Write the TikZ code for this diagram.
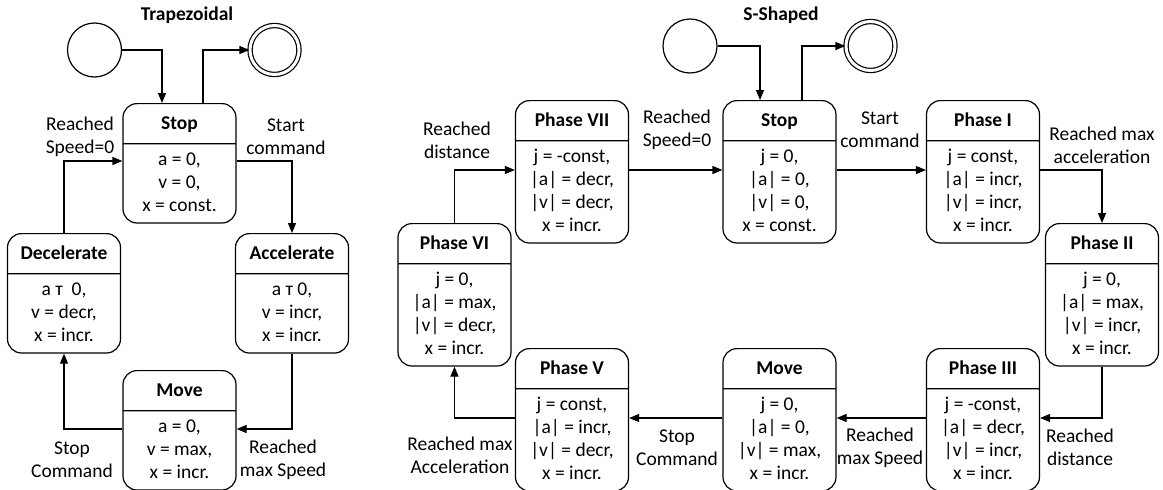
\documentclass[tikz,border=0pt]{standalone}
\usepackage{fontspec}
\setmainfont{Carlito}
\usepackage{tikz}
\usetikzlibrary{shapes,arrows.meta,calc}

\begin{document}
\begin{tikzpicture}[
				x=1pt, y=-1pt,
				font=\fontsize{19.5}{23}\selectfont,
				statebox/.style={draw, line width=1.2pt, rounded corners=14pt,
					rectangle split, rectangle split parts=2, minimum width=113pt,
					inner xsep=2pt, inner ysep=4.5pt, anchor=north},
				ring/.style={draw, line width=1.2pt, circle, minimum size=54pt, inner sep=0pt},
				arr/.style={line width=1.2pt, -{Triangle[length=10pt,width=8pt]}},
				lbl/.style={align=center, inner sep=0pt},
			]
			\newcommand{\hd}[1]{\textbf{#1}\rule[-9pt]{0pt}{30pt}}
			\newcommand{\bd}[1]{\begin{tabular}{@{}c@{}}#1\end{tabular}}

			\useasboundingbox (0,0) rectangle (1163,490);

			% Trapezoidal
			\node[font=\fontsize{19.5}{23}\bfseries] (ttitle) at (187,15) {Trapezoidal};
			\node[ring] (tinit) at (94.5,50) {};
			\node[ring, double, double distance=3pt, minimum size=49pt] (tfin) at (274.5,50) {};

			\node[statebox] (tstop) at (179.5,103) {\hd{Stop}\nodepart{second}\bd{a = 0,\\ v = 0,\\ x = const.}};
			\node[statebox] (tacc) at (292,233) {\hd{Accelerate}\nodepart{second}\bd{a т 0,\\ v = incr,\\ x = incr.}};
			\node[statebox] (tdec) at (64,233) {\hd{Decelerate}\nodepart{second}\bd{a т~ 0,\\ v = decr,\\ x = incr.}};
			\node[statebox] (tmove) at (179.5,370) {\hd{Move}\nodepart{second}\bd{a = 0,\\ v = max,\\ x = incr.}};

			\draw[arr] (tinit.east) -| ([xshift=-17.5]tstop.north);
			\draw[arr] ([xshift=23.5]tstop.north) |- (tfin.west);
			\draw[arr] ([yshift=-58]tstop.north east) -| (tacc.north);
			\draw[arr] (tacc.south) |- ([yshift=-59]tmove.north east);
			\draw[arr] ([yshift=-59]tmove.north west) -| (tdec.south);
			\draw[arr] (tdec.north) |- ([yshift=-58]tstop.north west);

			\node[lbl] (tl1) at (80,137) {Reached\\Speed=0};
			\node[lbl] (tl2) at (286,137) {Start\\command};
			\node[lbl] (tl3) at (283,460) {Reached\\max Speed};
			\node[lbl] (tl4) at (72,460) {Stop\\Command};

			% S-Shaped
			\node[font=\fontsize{19.5}{23}\bfseries] (stitle) at (781,15) {S-Shaped};
			\node[ring] (sinit) at (690,46) {};
			\node[ring, double, double distance=3pt, minimum size=49pt] (sfin) at (870.5,46) {};

			\node[statebox] (sstop) at (779.5,100) {\hd{Stop}\nodepart{second}\bd{j = 0,\\ |a| = 0,\\ |v| = 0,\\ x = const.}};
			\node[statebox] (p7) at (572,100) {\hd{Phase VII}\nodepart{second}\bd{j = -const,\\ |a| = decr,\\ |v| = decr,\\ x = incr.}};
			\node[statebox] (p1) at (983,100) {\hd{Phase I}\nodepart{second}\bd{j = const,\\ |a| = incr,\\ |v| = incr,\\ x = incr.}};
			\node[statebox] (p2) at (1102,223) {\hd{Phase II}\nodepart{second}\bd{j = 0,\\ |a| = max,\\ |v| = incr,\\ x = incr.}};
			\node[statebox] (p6) at (454.5,223) {\hd{Phase VI}\nodepart{second}\bd{j = 0,\\ |a| = max,\\ |v| = decr,\\ x = incr.}};
			\node[statebox] (p5) at (572,348) {\hd{Phase V}\nodepart{second}\bd{j = const,\\ |a| = incr,\\ |v| = decr,\\ x = incr.}};
			\node[statebox] (smove) at (779.5,348) {\hd{Move}\nodepart{second}\bd{j = 0,\\ |a| = 0,\\ |v| = max,\\ x = incr.}};
			\node[statebox] (p3) at (983,348) {\hd{Phase III}\nodepart{second}\bd{j = -const,\\ |a| = decr,\\ |v| = incr,\\ x = incr.}};

			\draw[arr] (sinit.east) -| ([xshift=-19.5]sstop.north);
			\draw[arr] ([xshift=22.5]sstop.north) |- (sfin.west);
			\draw[arr] ([yshift=-70]p7.north east) -- ([yshift=-70]sstop.north west);
			\draw[arr] ([yshift=-70]sstop.north east) -- ([yshift=-70]p1.north west);
			\draw[arr] ([yshift=-70]p1.north east) -| (p2.north);
			\draw[arr] (p2.south) |- ([yshift=-70]p3.north east);
			\draw[arr] ([yshift=-70]p3.north west) -- ([yshift=-70]smove.north east);
			\draw[arr] ([yshift=-70]smove.north west) -- ([yshift=-70]p5.north east);
			\draw[arr] ([yshift=-70]p5.north west) -| (p6.south);
			\draw[arr] (p6.north) |- ([yshift=-70]p7.north west);

			\node[lbl] (sl1) at (457,140) {Reached\\distance};
			\node[lbl] (sl2) at (677,130) {Reached\\Speed=0};
			\node[lbl] (sl3) at (880,130) {Start\\command};
			\node[lbl] (sl4) at (1102,145) {Reached max\\acceleration};
			\node[lbl] (sl5) at (1080,447) {Reached\\distance};
			\node[lbl] (sl6) at (880,448) {Reached\\max Speed};
			\node[lbl] (sl7) at (677,448) {Stop\\Command};
			\node[lbl] (sl8) at (460,455) {Reached max\\Acceleration};

		\end{tikzpicture}
\end{document}
